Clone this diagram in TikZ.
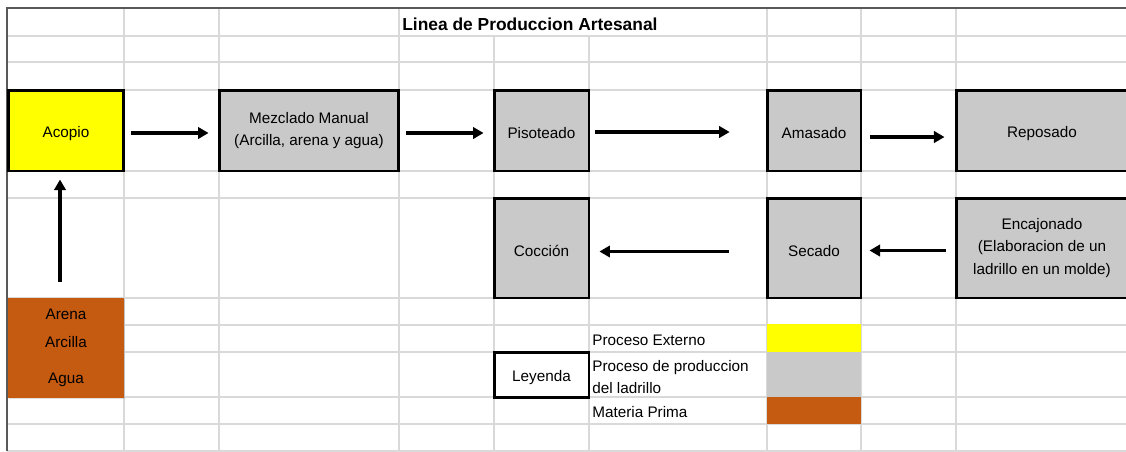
\documentclass[tikz,border=0pt]{standalone}
\usepackage{fontspec}
\setmainfont{Liberation Sans}
\usepackage{tikz}
\usetikzlibrary{arrows.meta,shadows}

\definecolor{amarillo}{HTML}{FFFF00}
\definecolor{gris}{HTML}{C9C9C9}
\definecolor{naranja}{HTML}{C55A11}
\definecolor{rejilla}{HTML}{D9D9D9}
\definecolor{borde}{HTML}{595959}

\begin{document}
\begin{tikzpicture}[
            x = 0.02cm, y = -0.02cm,
            font = \fontsize{8.7}{12.7}\selectfont,
            celda/.style = {draw = rejilla, line width = 1.1pt},
            caja/.style = {
                align = center,
                inner sep = 0pt,
                drop shadow = {opacity = 0.25, shadow xshift = 0.8pt, shadow yshift = -0.8pt},
            },
            proceso/.style = {
                caja,
                draw, fill = gris,
                line width = 1.7pt,
                minimum height = 1.62cm,
                execute at begin node = {\rule{0pt}{9.7pt}},
            },
            muestra/.style = {
                inner sep = 0pt,
                minimum width = 1.88cm,
            },
            texto/.style = {anchor = west, inner sep = 0pt, align = left},
            flecha/.style = {
                -{Triangle[length = 6pt, width = 6.5pt]},
                line width = 2.2pt,
            },
        ]
        \useasboundingbox (0,0) rectangle (1126,451);

        % Hoja
        \foreach \y in {36,62,90,171,198,298,325,352,397,424,451}
            \draw[celda] (7,\y) -- (1126,\y);
        \foreach \x in {124,219,399,767,861,956}
            \draw[celda] (\x,8) -- (\x,451);
        \foreach \x in {494,589}
            \draw[celda] (\x,36) -- (\x,451);
        \draw[borde, line width = 1.2pt] (7,451) -- (7,8) -- (1126,8);

        \node[texto, font = \fontsize{9.9}{12}\selectfont\bfseries] (titulo) at (402,24) {Linea de Produccion Artesanal};

        % Procesos
        \node[proceso, fill = amarillo, minimum width = 2.32cm] (acopio) at (66,130.5) {Acopio};
        \node[proceso, minimum width = 3.6cm] (mezclado) at (309,130.5) {Mezclado Manual \\ (Arcilla, arena y agua)};
        \node[proceso, minimum width = 1.9cm] (pisoteado) at (541.5,130.5) {Pisoteado};
        \node[proceso, minimum width = 1.88cm] (amasado) at (814,130.5) {Amasado};
        \node[proceso, minimum width = 3.44cm] (reposado) at (1042,130.5) {Reposado};
        \node[proceso, minimum width = 1.9cm, minimum height = 2cm] (coccion) at (541.5,248) {Cocción};
        \node[proceso, minimum width = 1.88cm, minimum height = 2cm] (secado) at (814,248) {Secado};
        \node[proceso, minimum width = 3.44cm, minimum height = 2cm] (encajonado) at (1042,248) {Encajonado \\ (Elaboracion de un \\ ladrillo en un molde)};
        \node[caja, fill = naranja, minimum width = 2.32cm, minimum height = 2cm,
              font = \fontsize{8.7}{15.9}\selectfont] (materia) at (66,348) {Arena \\ Arcilla \\[4.5pt] Agua};

        % Leyenda
        \node[proceso, fill = white, minimum width = 1.9cm, minimum height = 0.9cm] (leyenda) at (541.5,374.5) {Leyenda};
        \node[muestra, fill = amarillo, minimum height = 0.56cm] (externo) at (814,338) {};
        \node[muestra, fill = gris, minimum height = 0.9cm] (produccion) at (814,374.5) {};
        \node[muestra, fill = naranja, minimum height = 0.54cm] (prima) at (814,410.5) {};
        \node[texto] (txtexterno) at (592,340) {Proceso Externo};
        \node[texto] (txtproduccion) at (592,377) {Proceso de produccion \\ del ladrillo};
        \node[texto] (txtprima) at (592,412) {Materia Prima};

        % Flechas
        \path
        [
            flecha
        ]
            ([yshift = -0.05cm]acopio.east) edge[shorten <= 3.4pt, shorten >= 5.1pt] ([yshift = -0.05cm]mezclado.west)
            ([yshift = -0.05cm]mezclado.east) edge[shorten <= 3.4pt, shorten >= 5.1pt] ([yshift = -0.05cm]pisoteado.west)
            ([yshift = -0.03cm]pisoteado.east) edge[shorten <= 2.3pt, shorten >= 20.4pt] ([yshift = -0.03cm]amasado.west)
            ([yshift = -0.13cm]amasado.east) edge[shorten <= 4pt, shorten >= 5.7pt] ([yshift = -0.13cm]reposado.west)
            ([yshift = -0.05cm]encajonado.west) edge[shorten <= 5.1pt, shorten >= 4pt] ([yshift = -0.05cm]secado.east)
            ([yshift = -0.07cm]secado.west) edge[shorten <= 21pt, shorten >= 5.1pt] ([yshift = -0.07cm]coccion.east)
            ([xshift = -0.12cm]materia.north) edge[shorten <= 9.1pt, shorten >= 4pt] ([xshift = -0.12cm]acopio.south);

    \end{tikzpicture}
\end{document}
